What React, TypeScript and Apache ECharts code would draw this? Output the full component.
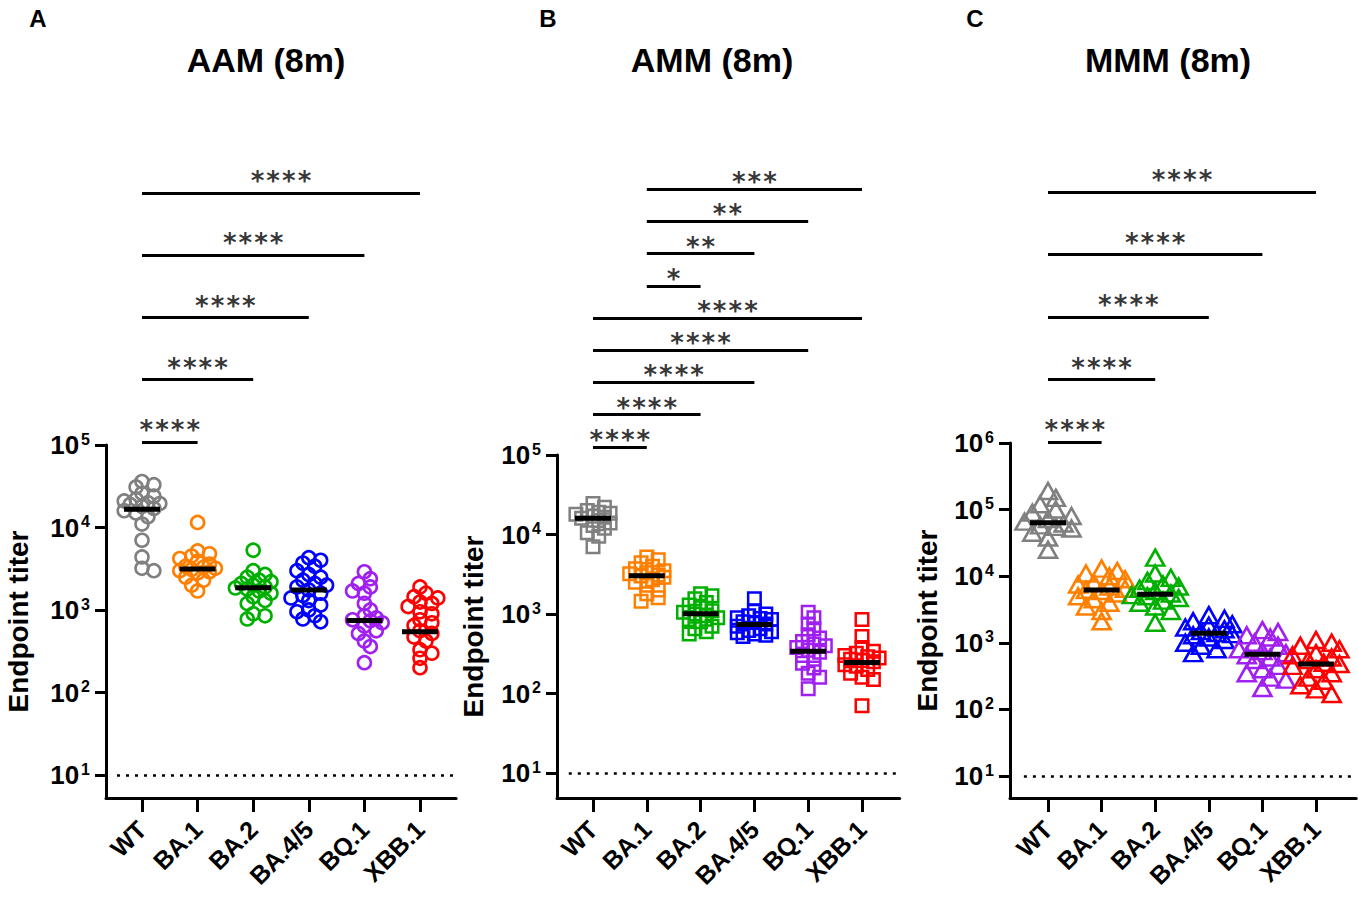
import React, { useEffect, useRef } from "react";
import * as echarts from "echarts";

const CATEGORIES = ["WT", "BA.1", "BA.2", "BA.4/5", "BQ.1", "XBB.1"];
const COLORS = ["#808080", "#FF8000", "#00B000", "#0000FF", "#A020F0", "#FF0000"];
const Y_TICKS_AB = [10, 100, 1000, 10000, 100000];
const Y_TICKS_C = [10, 100, 1000, 10000, 100000, 1000000];
const LOD = 10;

// Panel A: AAM (8m)
const aamWT = [36000, 33000, 31000, 26000, 24000, 22000, 21000, 20000, 19500, 19000, 18000, 17000, 16000, 15000, 13500, 11000, 7000, 4400, 3200, 3000];
const aamBA1 = [11500, 5200, 4800, 4500, 4200, 3900, 3600, 3400, 3300, 3200, 3100, 3000, 2900, 2800, 2500, 2300, 2000, 1700];
const aamBA2 = [5300, 3000, 2700, 2500, 2300, 2200, 2100, 2000, 1900, 1850, 1800, 1700, 1600, 1450, 1300, 1200, 900, 850, 780];
const aamBA45 = [4300, 4000, 3700, 3400, 3000, 2700, 2500, 2300, 2100, 2000, 1900, 1750, 1600, 1500, 1400, 1300, 1150, 1000, 950, 850, 780, 720];
const aamBQ1 = [2900, 2400, 2100, 1900, 1700, 1600, 1200, 1000, 850, 800, 760, 740, 700, 640, 560, 520, 420, 360, 230];
const aamXBB1 = [1900, 1600, 1450, 1400, 1250, 1200, 1100, 950, 900, 760, 700, 650, 560, 520, 470, 420, 330, 300, 260, 200];
const aamMedians = [16600, 3150, 1860, 1750, 745, 545];
const aamComparisons: [number, number, string][] = [
  [0, 1, "****"], [0, 2, "****"], [0, 3, "****"], [0, 4, "****"], [0, 5, "****"],
];

// Panel B: AMM (8m)
const ammWT = [24500, 22000, 20000, 19000, 18500, 18000, 17000, 16500, 16000, 15000, 14000, 13000, 12000, 10500, 9500, 7000];
const ammBA1 = [5200, 4800, 4400, 4000, 3700, 3500, 3300, 3200, 3100, 3000, 2900, 2700, 2500, 2300, 2000, 1800, 1600, 1450];
const ammBA2 = [1800, 1700, 1550, 1400, 1300, 1200, 1100, 1050, 1000, 950, 900, 850, 800, 700, 650, 600, 560];
const ammBA45 = [1550, 1100, 1000, 950, 900, 880, 850, 800, 780, 750, 700, 650, 620, 600, 580, 560, 540, 520];
const ammBQ1 = [1050, 900, 750, 650, 550, 500, 450, 420, 400, 380, 350, 330, 300, 270, 240, 210, 180, 160, 115];
const ammXBB1 = [850, 520, 380, 340, 320, 300, 290, 280, 270, 260, 250, 230, 220, 200, 180, 160, 150, 70];
const ammMedians = [16000, 3030, 1010, 740, 340, 245];
const ammComparisons: [number, number, string][] = [
  [0, 1, "****"], [0, 2, "****"], [0, 3, "****"], [0, 4, "****"], [0, 5, "****"],
  [1, 2, "*"], [1, 3, "**"], [1, 4, "**"], [1, 5, "***"],
];

// Panel C: MMM (8m)
const mmmWT = [190000, 150000, 120000, 100000, 90000, 80000, 72000, 66000, 62000, 58000, 55000, 52000, 45000, 38000, 25000];
const mmmBA1 = [13000, 12000, 11000, 10000, 9000, 8000, 7500, 7000, 6500, 6200, 6000, 5500, 5000, 4500, 4000, 3500, 3000, 2100];
const mmmBA2 = [19000, 11000, 9500, 8500, 7500, 7000, 6500, 6000, 5500, 5200, 5000, 4700, 4300, 4000, 3500, 3000, 2000];
const mmmBA45 = [2600, 2300, 2100, 1900, 1800, 1700, 1600, 1500, 1400, 1350, 1300, 1200, 1100, 1000, 900, 800, 700];
const mmmBQ1 = [1550, 1450, 1300, 1200, 1000, 900, 800, 750, 700, 650, 600, 550, 450, 400, 350, 300, 280, 210];
const mmmXBB1 = [1100, 1000, 900, 800, 700, 650, 600, 550, 500, 480, 450, 400, 350, 300, 270, 230, 200, 170];
const mmmMedians = [63600, 6200, 5340, 1390, 672, 481];
const mmmComparisons: [number, number, string][] = [
  [0, 1, "****"], [0, 2, "****"], [0, 3, "****"], [0, 4, "****"], [0, 5, "****"],
];

const FONT = "'Liberation Sans', Arial, Helvetica, sans-serif";
const STAR_FONT = "'DejaVu Sans Mono', 'Liberation Mono', monospace";

type Panel = {
  letter: string;
  title: string;
  groups: number[][];
  medians: number[];
  comparisons: [number, number, string][];
  yTicks: number[];
  symbol: string;
  size: number | number[];
  border: number;
  left: number;
  top: number;
  height: number;
  pxPerDecade: number;
  firstTick: number;
  step: number;
  xMax: number;
  bTop: number;
  bHeight: number;
  starLift: number;
  titleX: number;
  letterX: number;
  nameGap: number;
};

const PANELS: Panel[] = [
  {
    letter: "A", title: "AAM (8m)",
    groups: [aamWT, aamBA1, aamBA2, aamBA45, aamBQ1, aamXBB1],
    medians: aamMedians, comparisons: aamComparisons, yTicks: Y_TICKS_AB,
    symbol: "circle", size: 13, border: 2.6,
    left: 106, top: 445, height: 353, pxPerDecade: 82.5, firstTick: 142, step: 55.6, xMax: 5.65,
    bTop: 162, bHeight: 311, starLift: 12, titleX: 266, letterX: 38, nameGap: 74,
  },
  {
    letter: "B", title: "AMM (8m)",
    groups: [ammWT, ammBA1, ammBA2, ammBA45, ammBQ1, ammXBB1],
    medians: ammMedians, comparisons: ammComparisons, yTicks: Y_TICKS_AB,
    symbol: "rect", size: 12.5, border: 2.5,
    left: 557, top: 455, height: 343, pxPerDecade: 79.5, firstTick: 593, step: 53.8, xMax: 5.7,
    bTop: 173, bHeight: 290, starLift: 7, titleX: 712, letterX: 548, nameGap: 70,
  },
  {
    letter: "C", title: "MMM (8m)",
    groups: [mmmWT, mmmBA1, mmmBA2, mmmBA45, mmmBQ1, mmmXBB1],
    medians: mmmMedians, comparisons: mmmComparisons, yTicks: Y_TICKS_C,
    symbol: "triangle", size: [18, 16], border: 2.6,
    left: 1010, top: 443, height: 355, pxPerDecade: 66.6, firstTick: 1048, step: 53.6, xMax: 5.75,
    bTop: 160.75, bHeight: 312.5, starLift: 12, titleX: 1168, letterX: 975, nameGap: 69,
  },
];

// deterministic beeswarm-like spread computed from the values
function swarm(vals: number[], pxDec: number, pxCat: number, size: number): number[] {
  const order = vals.map((_, i) => i).sort((a, b) => vals[b] - vals[a]);
  const placed: { x: number; y: number }[] = [];
  const out = new Array(vals.length).fill(0);
  const stepPx = size * 0.38;
  const cands = [0];
  for (let k = 1; k <= 3; k++) cands.push(k * stepPx, -k * stepPx);
  for (const i of order) {
    const y = Math.log10(vals[i]) * pxDec;
    let best = 0;
    let bestScore = -1;
    for (const c of cands) {
      let minD = Infinity;
      for (const p of placed) minD = Math.min(minD, Math.hypot(p.x - c, p.y - y));
      if (minD >= size * 0.5) { best = c; bestScore = Infinity; break; }
      if (minD > bestScore) { bestScore = minD; best = c; }
    }
    placed.push({ x: best, y });
    out[i] = best / pxCat;
  }
  return out;
}

function buildOption() {
  const grid: any[] = [];
  const xAxis: any[] = [];
  const yAxis: any[] = [];
  const series: any[] = [];
  const graphic: any[] = [];
  const axisLineStyle = { color: "#000", width: 3 };

  PANELS.forEach((p) => {
    const xMin = -(p.firstTick - p.left) / p.step;
    const width = (p.xMax - xMin) * p.step;
    const yMax = p.yTicks[p.yTicks.length - 1];
    const yMin = Math.pow(10, Math.log10(yMax) - p.height / p.pxPerDecade);
    const catIdx = CATEGORIES.map((_, i) => i);

    const mainIdx = grid.length;
    grid.push({ left: p.left, top: p.top, width, height: p.height, outerBoundsMode: "none" });
    xAxis.push({
      gridIndex: mainIdx, type: "value", min: xMin, max: p.xMax,
      axisLine: { show: true, onZero: false, lineStyle: axisLineStyle },
      axisTick: { show: true, customValues: catIdx, length: 14, lineStyle: axisLineStyle },
      axisLabel: {
        show: true, customValues: catIdx, formatter: (v: number) => CATEGORIES[Math.round(v)],
        rotate: 45, margin: 27, fontSize: 25, fontWeight: "bold", fontFamily: FONT, color: "#000",
      },
      splitLine: { show: false },
    });
    yAxis.push({
      gridIndex: mainIdx, type: "log", logBase: 10, min: yMin, max: yMax,
      name: "Endpoint titer", nameLocation: "middle", nameRotate: 90, nameGap: p.nameGap,
      nameTextStyle: { fontSize: 28, fontWeight: "bold", fontFamily: FONT, color: "#000" },
      axisLine: { show: true, onZero: false, lineStyle: axisLineStyle },
      axisTick: { show: true, customValues: p.yTicks, length: 11, lineStyle: axisLineStyle },
      axisLabel: {
        show: true, customValues: p.yTicks, margin: 16,
        formatter: (v: number) => `{b|10}{s|${Math.round(Math.log10(v))}}`,
        rich: {
          b: { fontSize: 26, fontWeight: "bold", fontFamily: FONT, color: "#000", lineHeight: 28 },
          s: { fontSize: 16, fontWeight: "bold", fontFamily: FONT, color: "#000", verticalAlign: "top", lineHeight: 16, padding: [0, 0, 0, 2] },
        },
      },
      splitLine: { show: false },
    });

    const bIdx = grid.length;
    grid.push({ left: p.left, top: p.bTop, width, height: p.bHeight, outerBoundsMode: "none" });
    xAxis.push({ gridIndex: bIdx, type: "value", min: xMin, max: p.xMax, show: false });
    yAxis.push({ gridIndex: bIdx, type: "value", min: 0.5, max: p.comparisons.length + 0.5, show: false });

    const sizePx = Array.isArray(p.size) ? p.size[0] : p.size;
    p.groups.forEach((vals, ci) => {
      const offs = swarm(vals, p.pxPerDecade, p.step, sizePx + p.border);
      series.push({
        type: "scatter", xAxisIndex: mainIdx, yAxisIndex: mainIdx,
        symbol: p.symbol, symbolSize: p.size,
        itemStyle: { color: "rgba(0,0,0,0)", borderColor: COLORS[ci], borderWidth: p.border, opacity: 1 },
        data: vals.map((v, i) => [ci + offs[i], v]),
        z: 2, silent: true,
        markLine: ci === 0 ? {
          silent: true, symbol: ["none", "none"], label: { show: false },
          lineStyle: { type: [3, 6], width: 2.5, color: "#000" },
          data: [[{ coord: [-0.45, LOD] }, { coord: [p.xMax, LOD] }]],
        } : undefined,
      });
    });
    series.push({
      type: "scatter", xAxisIndex: mainIdx, yAxisIndex: mainIdx,
      symbol: "rect", symbolSize: [36, 5], itemStyle: { color: "#000", opacity: 1 },
      data: p.medians.map((m, i) => [i, m]), z: 4, silent: true,
    });
    series.push({
      type: "lines", coordinateSystem: "cartesian2d", xAxisIndex: bIdx, yAxisIndex: bIdx,
      lineStyle: { color: "#000", width: 3, opacity: 1, curveness: 0 }, silent: true,
      data: p.comparisons.map((c, k) => ({ coords: [[c[0], k + 1], [c[1], k + 1]] })),
    });
    series.push({
      type: "scatter", xAxisIndex: bIdx, yAxisIndex: bIdx,
      symbolSize: 1, itemStyle: { color: "rgba(0,0,0,0)" }, silent: true,
      label: {
        show: true, position: "inside", formatter: "{b}", offset: [0, -p.starLift],
        fontSize: 26, fontWeight: "bold", fontFamily: STAR_FONT, color: "#000",
      },
      data: p.comparisons.map((c, k) => ({ value: [(c[0] + c[1]) / 2, k + 1], name: c[2] })),
    });

    graphic.push({
      type: "text", x: p.titleX, y: 60,
      style: { text: p.title, font: `bold 34px ${FONT}`, fill: "#000", align: "center", verticalAlign: "middle" },
    });
    graphic.push({
      type: "text", x: p.letterX, y: 18,
      style: { text: p.letter, font: `bold 24px ${FONT}`, fill: "#000", align: "center", verticalAlign: "middle" },
    });
  });

  return { animation: false, backgroundColor: "#fff", grid, xAxis, yAxis, series, graphic };
}

export default function App() {
  const ref = useRef<HTMLDivElement>(null);
  useEffect(() => {
    if (!ref.current) return;
    const chart = echarts.init(ref.current, undefined, { renderer: "svg" });
    chart.setOption(buildOption() as any);
    return () => chart.dispose();
  }, []);
  return <div ref={ref} style={{ position: "absolute", left: 0, top: 0, width: 1358, height: 899 }} />;
}
